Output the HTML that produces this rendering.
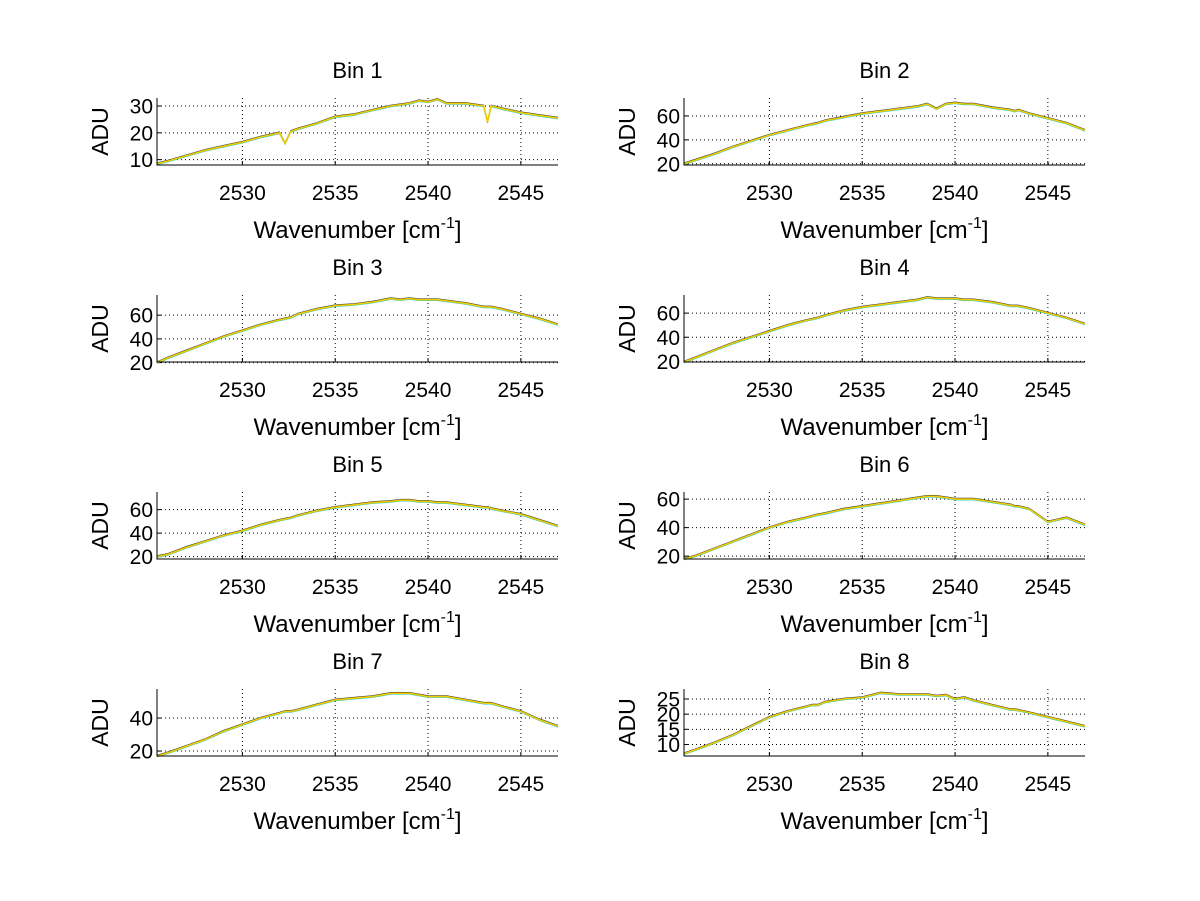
<!DOCTYPE html>
<html><head><meta charset="utf-8"><style>
body{margin:0;background:#fff;}
svg{display:block;font-family:"Liberation Sans",sans-serif;}
</style></head><body>
<svg id="fig" width="1200" height="901"></svg>
<script>
const titles = ["Bin 1","Bin 2","Bin 3","Bin 4","Bin 5","Bin 6","Bin 7","Bin 8"];
const xTicks = [2530,2535,2540,2545];
const xDomain = [2525.4,2547];
const yDomains = [[8,33],[19,75],[20.5,77],[19.5,75],[18,75],[18,65],[17,57.6],[6.2,28.3]];
const yTicks = [[10,20,30],[20,40,60],[20,40,60],[20,40,60],[20,40,60],[20,40,60],[20,40],[10,15,20,25]];
const wn = [2525.4,2526,2527,2528,2529,2530,2531,2532,2532.3,2532.6,2533,2534,2535,2536,2537,2538,2538.5,2539,2539.5,2540,2540.5,2541,2542,2543,2543.2,2543.4,2544,2545,2546,2547];
const adu = [
 [8.5,9.5,11.5,13.5,15,16.5,18.5,20,16,20.5,21.5,23.5,26,26.8,28.5,30,30.5,31,32,31.5,32.5,31,31,30,24,30,29,27.5,26.5,25.5],
 [20,23,28,34,39,44,48,52,53,54,56,59,62,64,66,68,70,66,70,71,70,70,67,65,64,65,62,58,54,48],
 [20,24,30,36,42,47,52,56,57,58,61,65,68,69,71,74,73,74,73,73,73,72,70,67,67,67,65,61,57,52],
 [19.5,23,29,35,40,45,50,54,55,56,58,62,65,67,69,71,73,72,72,72,71,71,69,66,66,66,64,60,56,51],
 [20,22,28,33,38,42,47,51,52,53,55,59,62,64,66,67,68,68,67,67,66,66,64,62,62,61,59,56,51,46],
 [18,20,25,30,35,40,44,47,48,49,50,53,55,57,59,61,62,62,61,60,60,60,58,56,55,55,53,44,47,42],
 [17,19,23,27,32,36,40,43,44,44,45,48,51,52,53,55,55,55,54,53,53,53,51,49,49,49,47,44,39,35],
 [7,8.2,10.5,13,16,19,21,22.5,23,23,24,25,25.5,27,26.5,26.5,26.5,26,26.3,25,25.5,24.5,23,21.5,21.5,21.3,20.5,19,17.5,16]
];
const NS="http://www.w3.org/2000/svg";
const svg=document.getElementById('fig');
function mk(tag,attrs,parent){const e=document.createElementNS(NS,tag);for(const k in attrs)e.setAttribute(k,attrs[k]);(parent||svg).appendChild(e);return e;}
const colX=[157,684], rowY=[98,295,492,689], W=401, H=67;
for(let i=0;i<8;i++){
  const x0=colX[i%2], y0=rowY[Math.floor(i/2)];
  const g=mk('g',{});
  
  
  const sx=v=>x0+(v-xDomain[0])/(xDomain[1]-xDomain[0])*W;
  const yd=yDomains[i];
  const sy=v=>y0+H-(v-yd[0])/(yd[1]-yd[0])*H;
  xTicks.forEach(t=>{const l=mk('line',{x1:sx(t),x2:sx(t),y1:y0,y2:y0+H,stroke:'#000','stroke-width':1,'stroke-dasharray':'1,3'},g);
    const tk=mk('line',{x1:sx(t),x2:sx(t),y1:y0+H,y2:y0+H-4,stroke:'#000','stroke-width':1},g);});
  yTicks[i].forEach(t=>{const l=mk('line',{x1:x0,x2:x0+W,y1:sy(t),y2:sy(t),stroke:'#000','stroke-width':1,'stroke-dasharray':'1,3'},g);
    const tk=mk('line',{x1:x0,x2:x0+4,y1:sy(t),y2:sy(t),stroke:'#000','stroke-width':1},g);});
  const pts=wn.map((w,j)=>sx(w).toFixed(1)+','+sy(adu[i][j]).toFixed(1)).join(' ');
  [['#20c8c8','series-cyan',1,0.8],['#333','series-black',1,-0.8],['#f0cc00','series-yellow',1.6,0]].forEach(c=>{
    const p=mk('polyline',{points:pts,fill:'none',stroke:c[0],'stroke-width':c[2],transform:'translate(0,'+c[3]+')'},g);
    
  });
  const ax=mk('path',{d:`M${x0},${y0} V${y0+H} H${x0+W}`,fill:'none',stroke:'#000','stroke-width':1},g);
  
  xTicks.forEach(t=>{const tx=mk('text',{x:sx(t),y:y0+H+35,'text-anchor':'middle','font-size':21},g);tx.textContent=t;});
  yTicks[i].forEach(t=>{const tx=mk('text',{x:x0-4,y:sy(t)+7.5,'text-anchor':'end','font-size':21},g);tx.textContent=t;});
  const ti=mk('text',{x:x0+W/2,y:y0-20,'text-anchor':'middle','font-size':22},g);ti.textContent=titles[i];
  
  const yl=mk('text',{x:0,y:0,'text-anchor':'middle','font-size':23,transform:`translate(${x0-49},${y0+H/2}) rotate(-90)`},g);yl.textContent='ADU';
  
  const xl=mk('text',{x:x0+W/2,y:y0+H+73,'text-anchor':'middle','font-size':24},g);
  
  xl.innerHTML='Wavenumber [cm<tspan dy="-10" font-size="16">-1</tspan><tspan dy="10">]</tspan>';
}
</script>
</body></html>
